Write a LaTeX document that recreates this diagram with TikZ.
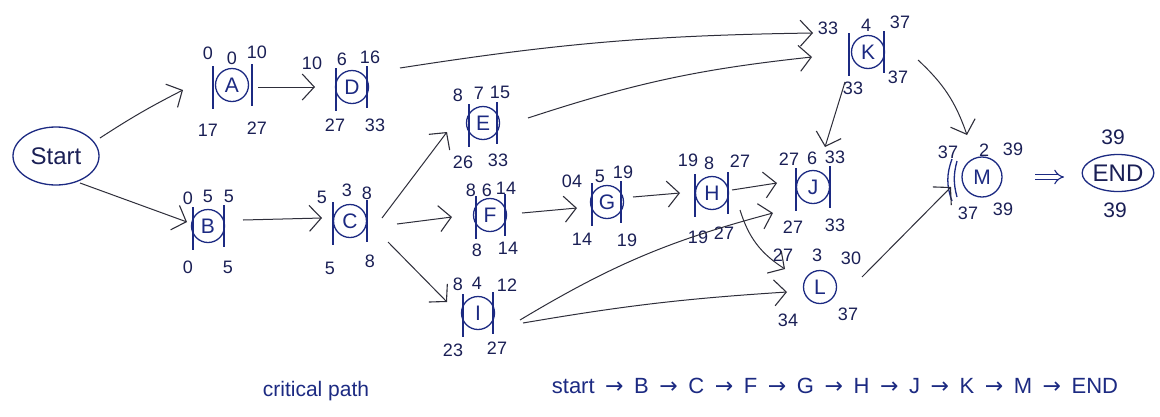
\documentclass[tikz,border=0pt]{standalone}
\usepackage{fontspec}
\setmainfont{Liberation Sans}
\newfontfamily\dvfont{DejaVu Sans}
\usetikzlibrary{arrows.meta,shapes.geometric,calc}
\definecolor{ink}{HTML}{1C2A82}
\definecolor{dark}{HTML}{1A1F55}
\definecolor{pen}{HTML}{2E2E3A}
\tikzset{
  act/.style={circle,draw=ink,line width=1.3pt,minimum size=33pt,inner sep=0pt,text=ink,font=\fontsize{21}{21}\selectfont},
  term/.style={ellipse,draw=ink,line width=1.3pt,inner sep=0pt,text=dark,font=\fontsize{24}{24}\selectfont},
  num/.style={text=dark,inner sep=0pt,font=\fontsize{18}{18}\selectfont},
  arr/.style={draw=pen,line width=1pt,-{Straight Barb[length=12pt,width=26pt,line width=1.1pt]}},
  dbl/.style={draw=ink,line width=1.1pt,double distance=4pt,-{Implies[length=6pt]}},
  bar/.style={draw=ink,line width=1.3pt},
  note/.style={text=ink,inner sep=0pt,font=\fontsize{21}{21}\selectfont}
}
\newcommand\barsof[3]{%
  \draw[bar] ($(#1)+(#2,-19)$) -- ($(#1)+(#2,24)$);
  \draw[bar] ($(#1)+(#3,-21)$) -- ($(#1)+(#3,21)$);}
\newcommand\cpar{\hspace{0.48em}{\dvfont→}\hspace{0.48em}}
\begin{document}
\begin{tikzpicture}[x=1pt,y=-1pt]
\useasboundingbox (0,0) rectangle (1160,416);
\fill[white] (0,0) rectangle (1160,416);

% terminals
\node[term,minimum width=86pt,minimum height=58pt] (start) at (56,156) {Start};
\node[term,minimum width=67pt,minimum height=37pt] (end) at (1118,173) {END};

% activities
\node[act] (A) at (232,85) {A};
\node[act] (D) at (352,87) {D};
\node[act] (B) at (208,226) {B};
\node[act] (C) at (350,221) {C};
\node[act] (E) at (483,123) {E};
\node[act] (F) at (490,215) {F};
\node[act] (G) at (607,202) {G};
\node[act] (H) at (712,193) {H};
\node[act] (I) at (478,313) {I};
\node[act] (J) at (813,187) {J};
\node[act] (L) at (820,287) {L};
\node[act] (K) at (868,52) {K};
\node[act,minimum size=40pt] (M) at (982,177) {M};

% bars
\barsof{A}{-19}{20}
\barsof{D}{-16}{15}
\barsof{B}{-15}{16}
\barsof{C}{-17}{17}
\barsof{E}{-14}{14}
\barsof{F}{-14}{15}
\barsof{G}{-15}{14}
\barsof{H}{-17}{16}
\barsof{I}{-15}{15}
\barsof{J}{-17}{17}
\barsof{K}{-19}{16}
\draw[bar] ($(M)+(-30,-18)$) to[bend right=20] ($(M)+(-30,24)$);
\draw[bar] ($(M)+(-25,-16)$) to[bend right=15] ($(M)+(-25,20)$);

% time labels
\node[num] (A1) at (208,53) {0};
\node[num] (A2) at (232,58) {0};
\node[num] (A3) at (257,52) {10};
\node[num] (A4) at (208,130) {17};
\node[num] (A5) at (257,128) {27};

\node[num] (D1) at (312,63) {10};
\node[num] (D2) at (342,59) {6};
\node[num] (D3) at (370,57) {16};
\node[num] (D4) at (335,125) {27};
\node[num] (D5) at (375,125) {33};

\node[num] (B1) at (188,198) {0};
\node[num] (B2) at (208,196) {5};
\node[num] (B3) at (229,196) {5};
\node[num] (B4) at (188,267) {0};
\node[num] (B5) at (228,267) {5};

\node[num] (C1) at (322,197) {5};
\node[num] (C2) at (347,190) {3};
\node[num] (C3) at (367,193) {8};
\node[num] (C4) at (330,268) {5};
\node[num] (C5) at (370,261) {8};

\node[num] (E1) at (458,95) {8};
\node[num] (E2) at (479,93) {7};
\node[num] (E3) at (500,92) {15};
\node[num] (E4) at (463,162) {26};
\node[num] (E5) at (498,160) {33};

\node[num] (F1) at (471,190) {8};
\node[num] (F2) at (487,190) {6};
\node[num] (F3) at (506,188) {14};
\node[num] (F4) at (477,250) {8};
\node[num] (F5) at (508,248) {14};

\node[num] (G1) at (572,181) {04};
\node[num] (G2) at (600,176) {5};
\node[num] (G3) at (623,172) {19};
\node[num] (G4) at (582,239) {14};
\node[num] (G5) at (627,240) {19};

\node[num] (H1) at (688,160) {19};
\node[num] (H2) at (709,163) {8};
\node[num] (H3) at (740,161) {27};
\node[num] (H4) at (698,237) {19};
\node[num] (H5) at (724,233) {27};

\node[num] (I1) at (458,284) {8};
\node[num] (I2) at (477,283) {4};
\node[num] (I3) at (507,285) {12};
\node[num] (I4) at (453,350) {23};
\node[num] (I5) at (497,348) {27};

\node[num] (J1) at (789,159) {27};
\node[num] (J2) at (812,158) {6};
\node[num] (J3) at (835,157) {33};
\node[num] (J4) at (793,227) {27};
\node[num] (J5) at (835,225) {33};

\node[num] (L1) at (783,255) {27};
\node[num] (L2) at (817,255) {3};
\node[num] (L3) at (851,258) {30};
\node[num] (L4) at (788,320) {34};
\node[num] (L5) at (848,314) {37};

\node[num] (K1) at (828,28) {33};
\node[num] (K2) at (866,25) {4};
\node[num] (K3) at (900,22) {37};
\node[num] (K4) at (853,88) {33};
\node[num] (K5) at (898,77) {37};

\node[num] (M1) at (948,152) {37};
\node[num] (M2) at (984,150) {2};
\node[num] (M3) at (1013,149) {39};
\node[num] (M4) at (968,213) {37};
\node[num] (M5) at (1003,209) {39};

\node[num,font=\fontsize{21}{21}\selectfont] (N1) at (1113,137) {39};
\node[num,font=\fontsize{21}{21}\selectfont] (N2) at (1115,210) {39};

% connectors
\draw[arr] ($(start)+(44,-18)$) to[bend left=3] ($(A)+(-49,5)$);
\draw[arr] ($(start)+(24,27)$) -- ($(B)+(-21,-4)$);
\draw[arr] ($(A)+(26,2)$) -- ($(D)+(-37,0)$);
\draw[arr] ($(B)+(35,-6)$) -- ($(C)+(-28,-3)$);
\draw[arr] ($(C)+(32,-3)$) -- ($(E)+(-36,9)$);
\draw[arr] ($(C)+(47,3)$) -- ($(F)+(-38,2)$);
\draw[arr] ($(C)+(38,21)$) -- ($(I)+(-31,-11)$);
\draw[arr] ($(D)+(48,-19)$) to[bend left=4] ($(K)+(-55,-19)$);
\draw[arr] ($(E)+(45,-5)$) to[bend left=6] ($(K)+(-56,5)$);
\draw[arr] ($(F)+(32,-2)$) -- ($(G)+(-30,6)$);
\draw[arr] ($(G)+(26,-5)$) -- ($(H)+(-32,0)$);
\draw[arr] ($(H)+(20,-3)$) -- ($(J)+(-36,-4)$);
\draw[arr] ($(H)+(28,17)$) to[bend right=20] ($(L)+(-35,-18)$);
\draw[arr] ($(I)+(42,7)$) to[bend left=8] ($(J)+(-40,26)$);
\draw[arr] ($(I)+(45,10)$) to[bend left=3] ($(L)+(-33,5)$);
\draw[arr] ($(K)+(-23,30)$) -- ($(J)+(12,-40)$);
\draw[arr] ($(K)+(50,8)$) to[bend left=14] ($(M)+(-15,-42)$);
\draw[arr] ($(L)+(42,-10)$) -- ($(M)+(-31,10)$);
\draw[dbl] ($(M)+(53,0)$) -- ($(end)+(-54,4)$);

% critical path
\node[note] (cpl) at (316,391) {critical path};
\node[note,font=\fontsize{22}{22}\selectfont] (cpp) at (835,386) {start\cpar B\cpar C\cpar F\cpar G\cpar H\cpar J\cpar K\cpar M\cpar END};
\end{tikzpicture}
\end{document}
